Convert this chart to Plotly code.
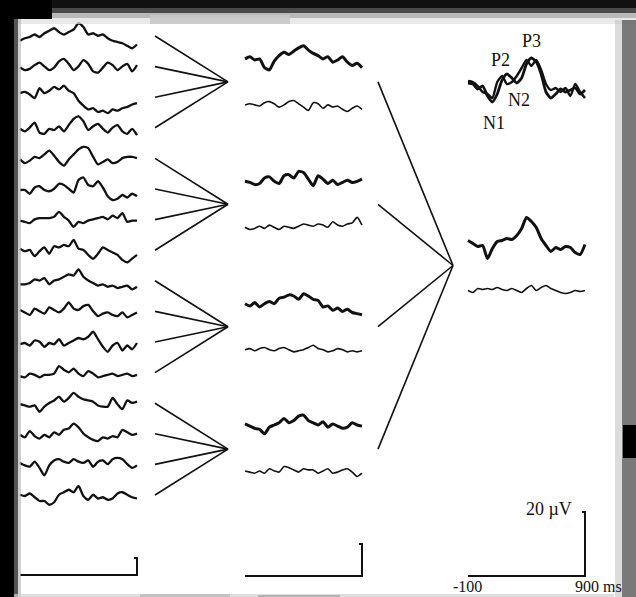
import numpy as np
import plotly.graph_objects as go

# ---------------- data (amplitudes, positive = up) -------------
single_trials = [
    [-3, -1, 0, 2, 0, 3, 5, 7, 4, 2, 4, 6, 11, 8, 2, 3, 1, 2, -1, -3, -4, -5, -7, -9, -6],
    [0, -2, -1, 2, 4, 1, -2, 0, 5, 7, 3, -2, 1, 6, 3, -3, -4, 0, 4, 2, -2, 1, 3, -3, 2],
    [4, 5, 3, 0, 8, 4, 6, 9, 7, 10, 6, 4, -2, -6, -9, -8, -11, -10, -12, -9, -10, -8, -7, -5, -4],
    [0, -2, 1, 5, -3, -4, 0, -1, 2, -2, 3, 8, 10, 6, -1, 2, 4, 0, -3, 1, 3, -2, -4, 0, -5],
    [0, -3, -1, 2, 1, 4, 7, 3, -2, -5, 0, 4, 8, 10, 9, 2, -4, -2, 0, -3, -2, 1, 2, 2, 1],
    [0, 0, -3, 2, 3, 0, -1, 1, 5, 4, 1, -2, 8, 10, 4, 3, 7, 2, -5, -8, -7, -4, -6, -3, -5],
    [0, -1, -2, 1, 2, 2, 2, 3, 7, 3, 0, -5, -1, -2, 0, 1, 2, 3, 1, 4, 2, 6, -1, 0, 0],
    [2, 0, 1, -4, 0, 3, -2, 4, 3, 5, 4, 9, 2, 1, -3, -6, -2, 3, 1, -1, -3, -7, -9, -6, -3],
    [-2, -2, -1, 2, 1, 3, -2, 1, 2, 4, 6, 5, 10, 4, 1, -1, -3, -2, -4, -3, -5, -4, -3, -6, -4],
    [2, 0, -2, 3, 1, -1, 4, 2, 0, 3, 8, 3, 2, 5, 6, 1, -3, -1, 0, -2, -3, 0, -4, -2, 0],
    [-1, 0, -2, 2, 1, -3, 0, -1, 3, -2, 0, 2, 4, 3, 5, 9, 3, -3, -7, -2, 0, -6, -2, -5, 0],
    [-2, -3, 0, -1, -3, -1, -1, 0, 6, 3, 1, 4, 0, -2, 2, 0, -3, -2, -1, 0, -2, -1, 0, -2, -1],
    [0, -1, -2, -1, -6, -2, 1, 3, 6, 2, 5, 9, 6, 4, 3, 2, -1, -2, -2, 5, 0, -4, 3, 1, 2],
    [0, -2, 3, -1, -3, 0, -2, 2, 0, 4, 5, 9, 6, 1, -2, -4, -5, -2, -3, -1, -2, 4, 2, 0, 1],
    [2, 0, -1, 3, -2, -8, 0, 4, 5, 3, 2, 5, 3, 2, 4, -1, 3, 4, 1, 5, 6, 5, 1, -2, 0],
    [1, 0, 2, -1, -4, -4, -7, -5, 1, 3, 5, 3, 8, 0, -3, 1, -2, -1, -3, -2, 2, 3, 1, -1, -2],
]

group_avg_target = [
    [0, 2, -1, 0, -8, -10, -2, 3, 6, 4, 7, 10, 12, 8, 5, 3, 0, 2, -3, -1, 2, -3, -6, -4, -8],
    [0, -1, -3, -2, 3, 4, 0, -2, 5, 6, 3, 9, 8, 2, -4, 5, 2, -2, 1, -3, -1, 1, -1, 0, 2],
    [0, -2, 1, -3, 0, 2, 0, 5, 6, 8, 7, 4, 9, 7, 4, 3, -3, -2, -6, -4, -7, -5, -8, -9, -10],
    [2, 0, -2, -3, -7, -1, 1, 3, 7, 3, 5, 9, 10, 5, 3, 1, 4, -1, 2, 0, -2, -1, 3, 1, 0],
]
group_avg_standard = [
    [0, 1, 0, -1, 2, 3, 1, -2, 0, 3, 4, 1, -2, -5, 2, 1, -3, 0, -2, -1, -4, -6, -3, -1, -4],
    [0, -2, -1, 1, -1, 2, 0, -2, 1, 0, -1, 1, 3, 2, 1, 3, 2, 0, 5, 2, 1, 3, 4, 9, 2],
    [0, 1, -1, 1, 2, 0, -1, 1, 2, 0, -2, -1, 0, 2, 4, 1, 0, -2, -1, 1, 0, -2, -1, -2, -1],
    [1, 0, -1, 1, -1, 3, 1, 0, 5, 4, 2, 0, 3, 2, 2, -1, 1, 3, -1, 0, 2, 3, 0, -4, -1],
]

grand_avg_target = [3, 0, -3, -2, -15, -5, 2, 3, 5, 4, 8, 15, 26, 22, 16, 5, -2, -8, -4, -6, -3, -4, -9, -11, -1]
grand_avg_standard = [0, -2, 2, 1, 2, 1, 3, 1, 0, 2, 0, -2, 2, 5, 0, 3, 5, 2, 0, -2, -3, -2, 0, -1, 0]

overlay_a = [3, 2, -3, 0, -10, -16, -8, 6, 12, 8, 3, 8, 22, 28, 24, 12, -6, -12, -8, -3, -6, -4, -2, -8, -4]
overlay_b = [5, 4, 0, -6, -8, -12, 4, 10, 2, 4, 10, 18, 26, 20, 26, 16, 2, -4, -2, -6, -2, -10, 2, -6, -12]

peak_labels = ["P3", "P2", "N2", "N1"]
time_labels = ["-100", "900 ms"]
amp_label = "20 µV"

# ---------------- layout (pixel frame) ----------------
W, H = 636, 597
col_left = (20, 137)
col_mid = (245, 362)
col_right = (468, 585)
first_base, spacing = 37, 30.6
fan1_x = (155, 228)
fan2_x = (378, 453)
INK = "#111111"

fig = go.Figure()


def wave(vals, x0, x1, base, width, scale=1.0):
    x = np.linspace(x0, x1, len(vals))
    y = base - scale * np.asarray(vals, dtype=float)
    fig.add_trace(go.Scatter(x=x, y=y, mode="lines",
                             line=dict(color=INK, width=width, shape="spline", smoothing=0.6),
                             hoverinfo="skip", showlegend=False))


def seg(xs, ys, width=1.4):
    fig.add_trace(go.Scatter(x=xs, y=ys, mode="lines", line=dict(color=INK, width=width),
                             hoverinfo="skip", showlegend=False))


# single trials
bases = [first_base + spacing * i for i in range(len(single_trials))]
for vals, b in zip(single_trials, bases):
    wave(vals, col_left[0], col_left[1], b, 2.3, 1.25)

# fans to group averages
group_centres = []
for g in range(4):
    gb = bases[4 * g:4 * g + 4]
    cy = float(np.mean(gb)) - 1
    group_centres.append(cy)
    for b in gb:
        seg([fan1_x[0], fan1_x[1]], [b - 1, cy], 1.6)

# group averages
for g, cy in enumerate(group_centres):
    wave(group_avg_target[g], col_mid[0], col_mid[1], cy - 23, 3.0, 1.1)
    wave(group_avg_standard[g], col_mid[0], col_mid[1], cy + 23, 1.6, 1.1)

# fan to grand average
gcy = float(np.mean(group_centres))
for cy in group_centres:
    seg([fan2_x[0], fan2_x[1]], [cy, gcy], 1.6)

# grand averages
wave(grand_avg_target, col_right[0], col_right[1], gcy - 22, 3.0, 1.0)
wave(grand_avg_standard, col_right[0], col_right[1], gcy + 25, 1.6, 1.0)

# overlaid top ERP
wave(overlay_b, col_right[0], col_right[1], 86, 2.4, 1.0)
wave(overlay_a, col_right[0], col_right[1], 86, 2.8, 1.0)

# scale bars
seg([col_left[0], col_left[1], col_left[1], col_left[1] - 3], [575, 575, 558, 558], 2.0)
seg([col_mid[0], col_mid[1], col_mid[1], col_mid[1] - 3], [576, 576, 544, 544], 2.0)
seg([col_right[0], col_right[1], col_right[1], col_right[1] - 3], [576, 576, 512, 512], 2.0)

# texts
serif = "Liberation Serif"
txt = [
    (peak_labels[0], 531, 41), (peak_labels[1], 500, 60),
    (peak_labels[2], 519, 100), (peak_labels[3], 494, 123),
]
for t, x, y in txt:
    fig.add_annotation(x=x, y=y, text=t, showarrow=False,
                       font=dict(family=serif, size=18, color=INK))
fig.add_annotation(x=574, y=509, text=amp_label, showarrow=False, xanchor="right",
                   font=dict(family=serif, size=18, color=INK))
fig.add_annotation(x=467, y=586, text=time_labels[0], showarrow=False,
                   font=dict(family=serif, size=16, color=INK))
fig.add_annotation(x=598, y=586, text=time_labels[1], showarrow=False,
                   font=dict(family=serif, size=16, color=INK))

# photo-like dark frame
shapes = []
def rect(x0, y0, x1, y1, color, op=1.0):
    shapes.append(dict(type="rect", xref="x", yref="y", x0=x0, y0=y0, x1=x1, y1=y1,
                       fillcolor=color, opacity=op, line=dict(width=0), layer="above"))

rect(0, 0, W, 8, "#111111")
rect(0, 8, W, 13, "#4a4a4a")
rect(0, 13, W, 18, "#a8a8a8", 0.8)
rect(0, 18, W, 24, "#e0e0e0", 0.7)
rect(0, 0, 52, 19, "#000000")
rect(0, 0, 14, H, "#000000")
rect(14, 19, 18, H, "#555555")
rect(18, 19, 21, H, "#b0b0b0", 0.6)
rect(150, 15, 290, 24, "#c8c8c8", 0.9)
rect(622, 20, W, H, "#6a6a6a", 0.9)
rect(615, 20, 622, H, "#c4c4c4", 0.6)
rect(623, 425, W, 458, "#000000")
rect(14, 594, 614, H, "#d0d0d0", 0.7)
rect(140, 594, 230, H, "#b0b0b0", 0.6)
rect(258, 595, 340, H, "#a0a0a0", 0.7)

fig.update_layout(
    width=W, height=H, margin=dict(l=0, r=0, t=0, b=0),
    paper_bgcolor="white", plot_bgcolor="white",
    xaxis=dict(range=[0, W], visible=False, fixedrange=True),
    yaxis=dict(range=[H, 0], visible=False, fixedrange=True),
    shapes=shapes, showlegend=False,
)
fig.write_html("out.html", config={"displayModeBar": False},
               post_script="document.body.style.margin='0px';")
